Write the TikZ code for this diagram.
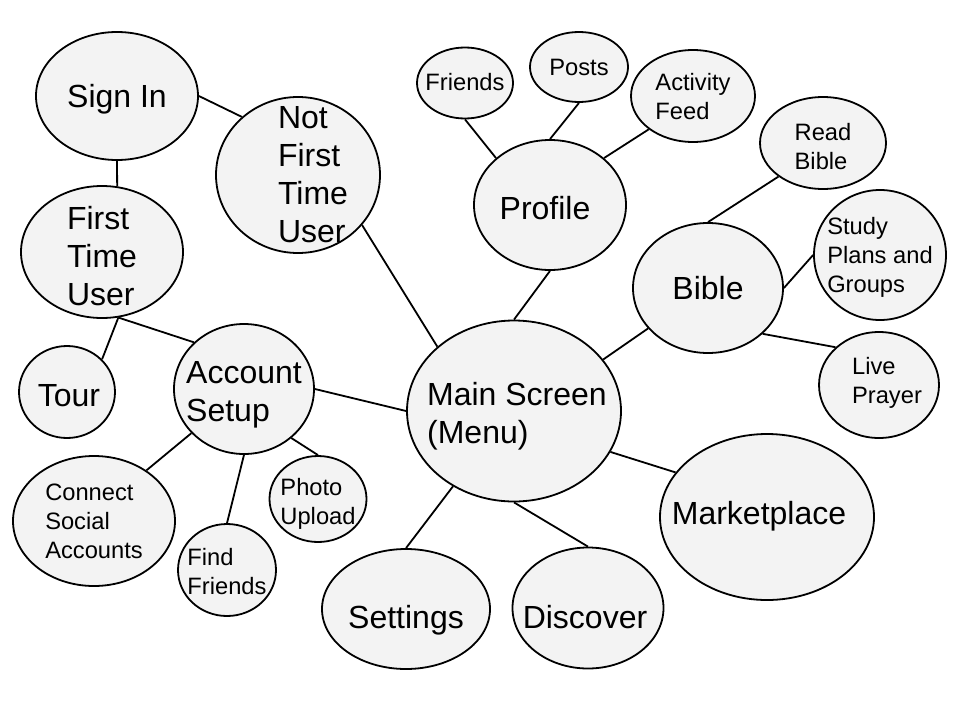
\documentclass[tikz,border=0pt]{standalone}
\usepackage{fontspec}
\setmainfont{Liberation Sans}
\usepackage{xcolor}
\usepackage{tikz}
\usetikzlibrary{shapes,positioning}
\definecolor{bubblefill}{HTML}{F3F3F3}

\begin{document}
\begin{tikzpicture}[x=1pt, y=-1pt,
    bubble/.style={ellipse, draw, line width=1.8pt, fill=bubblefill, inner sep=0pt},
    big/.style={font=\fontsize{32}{38}\selectfont, align=left},
    small/.style={font=\fontsize{23.7}{29}\selectfont, align=left},
    link/.style={line width=1.8pt}]
    \useasboundingbox (0,0) rectangle (960,720);

    \node[bubble, minimum width=162, minimum height=128, label={[big, yshift=-3]center:Sign In}] (signin) at (117,96) {};
    \node[bubble, minimum width=164, minimum height=156, label={[big, xshift=15]center:{Not\\First\\Time\\User}}] (notfirst) at (298,175) {};
    \node[bubble, minimum width=162, minimum height=132, label={[big, yshift=-4]center:{First\\Time\\User}}] (first) at (102,252) {};
    \node[bubble, minimum width=96, minimum height=92, label={[big, xshift=2, yshift=-4]center:Tour}] (tour) at (67,392) {};
    \node[bubble, minimum width=140, minimum height=130, label={[big, yshift=-6]center:{Account\\Setup}}] (account) at (244,389) {};
    \node[bubble, minimum width=162, minimum height=130, label={[small]center:{Connect\\Social\\Accounts}}] (connect) at (94,521) {};
    \node[bubble, minimum width=98, minimum height=92, label={[small, yshift=-2]center:{Find\\Friends}}] (findfr) at (227,570) {};
    \node[bubble, minimum width=97, minimum height=86, label={[small, yshift=-5]center:{Photo\\Upload}}] (photo) at (318,499) {};

    \node[bubble, minimum width=214, minimum height=181, label={[big, xshift=3, yshift=-5]center:{Main Screen\\(Menu)}}] (main) at (514,411) {};
    \node[bubble, minimum width=168, minimum height=120, label={[big, yshift=-11]center:Settings}] (settings) at (406,609) {};
    \node[bubble, minimum width=151, minimum height=121, label={[big, xshift=-3, yshift=-9]center:Discover}] (discover) at (588,608) {};
    \node[bubble, minimum width=214, minimum height=166, label={[big, xshift=-8, yshift=1]center:Marketplace}] (market) at (767,517) {};

    \node[bubble, minimum width=152, minimum height=130, label={[big, xshift=-5, yshift=-3]center:Profile}] (profile) at (550,205) {};
    \node[bubble, minimum width=96, minimum height=71, label={[small, yshift=1]center:Friends}] (friends) at (465,83) {};
    \node[bubble, minimum width=98, minimum height=70, label={[small]center:Posts}] (posts) at (579,67) {};
    \node[bubble, minimum width=124, minimum height=92, label={[small, yshift=-1]center:{Activity\\Feed}}] (activity) at (693,96) {};

    \node[bubble, minimum width=150, minimum height=130, label={[big]center:Bible}] (bible) at (708,288) {};
    \node[bubble, minimum width=126, minimum height=92, label={[small, yshift=-4]center:{Read\\Bible}}] (readbible) at (823,143) {};
    \node[bubble, minimum width=132, minimum height=130, label={[small, yshift=-2]center:{Study\\Plans and\\Groups}}] (study) at (880,255) {};
    \node[bubble, minimum width=120, minimum height=106, label={[small, xshift=8, yshift=2]center:{Live\\Prayer}}] (prayer) at (879,385) {};

    \draw[link] (signin.0) -- (notfirst.134);
    \draw[link] (signin.-90) -- (first.77);
    \draw[link] (first.-76) -- (tour.43);
    \draw[link] (first.-76) -- (account.137);
    \draw[link] (notfirst.-38) -- (main.140);
    \draw[link] (account.0) -- (main.180);
    \draw[link] (account.-140) -- (connect.44);
    \draw[link] (account.-90) -- (findfr.90);
    \draw[link] (account.-46) -- (photo.90);
    \draw[link] (main.90) -- (profile.-90);
    \draw[link] (main.30) -- (bible.-146);
    \draw[link] (main.-23) -- (market.154);
    \draw[link] (main.-129) -- (settings.90);
    \draw[link] (main.-90) -- (discover.90);
    \draw[link] (profile.139) -- (friends.-90);
    \draw[link] (profile.90) -- (posts.-90);
    \draw[link] (profile.41) -- (activity.-143);
    \draw[link] (bible.90) -- (readbible.-143);
    \draw[link] (bible.0) -- (study.180);
    \draw[link] (bible.-40) -- (prayer.139);
\end{tikzpicture}
\end{document}
